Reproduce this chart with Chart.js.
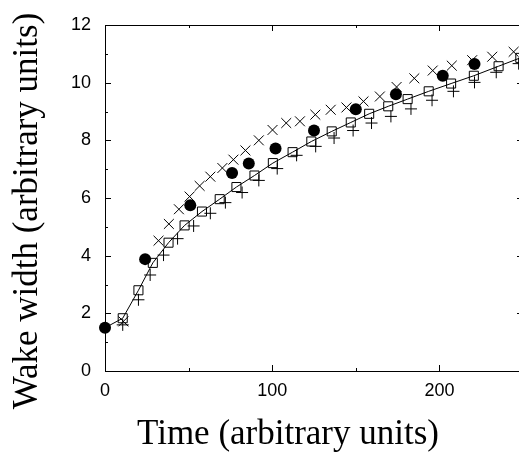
<!DOCTYPE html>
<html>
<head>
<meta charset="utf-8">
<title>Wake width</title>
<script src="https://cdn.jsdelivr.net/npm/chart.js@4.4.1/dist/chart.umd.min.js"></script>
<style>
  html, body { margin: 0; background: #fff; overflow: hidden; }
  canvas { display: block; }
</style>
</head>
<body>
<!-- the original figure is cut at its right border, so the canvas runs past the window -->
<canvas id="wakeChart" width="531" height="453"></canvas>
<script>
    // Values
    const circleTimes = [0, 24, 51, 76, 86, 102, 125, 150, 174, 202, 221];
    const circleWidths = [1.5, 3.88, 5.75, 6.87, 7.2, 7.72, 8.34, 9.08, 9.6, 10.24, 10.65];

    const squareTimes = [0, 10.6, 20, 28.6, 38, 47.6, 58, 68.6, 78.6, 89.4, 100.4, 112.2, 123.4, 135.6, 147, 158, 169.4, 181, 193.6, 207, 220.6, 235.4, 248.4];
    const squareWidths = [1.5, 1.83, 2.8, 3.75, 4.45, 5.05, 5.53, 5.96, 6.38, 6.78, 7.21, 7.59, 7.96, 8.31, 8.62, 8.92, 9.18, 9.43, 9.7, 9.97, 10.24, 10.57, 10.86];

    const crossTimes = [11, 32, 38.2, 44.2, 50.6, 56.6, 63, 70.2, 76.8, 84, 92, 100.2, 108.4, 116.6, 125.8, 135, 144.4, 154.6, 164.4, 174.4, 185, 196, 207.4, 219.6, 231.6, 244.4];
    const crossWidths = [1.72, 4.52, 5.1, 5.61, 6.05, 6.42, 6.74, 7.04, 7.33, 7.65, 8.0, 8.36, 8.6, 8.66, 8.89, 9.06, 9.14, 9.35, 9.52, 9.85, 10.15, 10.42, 10.59, 10.78, 10.9, 11.07];

    const plusTimes = [10.6, 20, 27, 35, 43.4, 53, 63, 72, 82, 92, 103, 114.6, 126, 137, 148.4, 159.4, 171, 183, 195.6, 208.4, 221, 234, 247.4];
    const plusWidths = [1.6, 2.47, 3.33, 4.02, 4.59, 5.03, 5.47, 5.84, 6.19, 6.61, 7.02, 7.48, 7.79, 8.08, 8.34, 8.6, 8.83, 9.09, 9.39, 9.7, 10.01, 10.36, 10.66];

    const xTickValues = [0, 50, 100, 150, 200, 250];
    const xTickLabels = ['0', '', '100', '', '200', ''];
    const yTickValues = [0, 1, 2, 3, 4, 5, 6, 7, 8, 9, 10, 11, 12];
    const yTickLabels = ['0', '', '2', '', '4', '', '6', '', '8', '', '10', '', '12'];

    const xTitle = 'Time (arbitrary units)';
    const yTitle = 'Wake width (arbitrary units)';

    // Turn two arrays into {x, y} points
    function toPoints(xs, ys) {
        return xs.map((x, i) => ({ x: x, y: ys[i] }));
    }

    // Frame with inward ticks on all four sides
    const frameAndTicks = {
        id: 'frameAndTicks',
        beforeDatasetsDraw(chart) {
            const { ctx, chartArea, scales } = chart;
            const { left, right, top, bottom } = chartArea;
            ctx.save();
            ctx.strokeStyle = '#000';
            ctx.lineWidth = 1;
            ctx.beginPath();
            ctx.rect(Math.round(left) + 0.5, Math.round(top) + 0.5, Math.round(right - left), Math.round(bottom - top));

            yTickValues.forEach((v, i) => {
                const y = Math.round(scales.y.getPixelForValue(v)) + 0.5;
                const len = yTickLabels[i] ? 6 : 3;
                ctx.moveTo(left, y);
                ctx.lineTo(left + len, y);
                ctx.moveTo(right, y);
                ctx.lineTo(right - len, y);
            });
            xTickValues.forEach((v, i) => {
                const x = Math.round(scales.x.getPixelForValue(v)) + 0.5;
                const len = xTickLabels[i] ? 6 : 3;
                ctx.moveTo(x, bottom);
                ctx.lineTo(x, bottom - len);
                ctx.moveTo(x, top);
                ctx.lineTo(x, top + len);
            });
            ctx.stroke();
            ctx.restore();
        },
        // axis titles, placed a bit off-centre like the original figure
        afterDraw(chart) {
            const { ctx, chartArea } = chart;
            ctx.save();
            ctx.fillStyle = '#000';
            ctx.font = '35px "Liberation Serif", "Times New Roman", serif';
            ctx.textAlign = 'center';
            ctx.textBaseline = 'alphabetic';
            ctx.fillText(xTitle, (chartArea.left + chartArea.right) / 2 - 26, chartArea.bottom + 73);

            ctx.translate(chartArea.left - 68, (chartArea.top + chartArea.bottom) / 2 + 13);
            ctx.rotate(-Math.PI / 2);
            ctx.fillText(yTitle, 0, 0);
            ctx.restore();
        }
    };

    Chart.defaults.color = '#000';
    Chart.defaults.font.family = '"Liberation Sans", Arial, sans-serif';

    const tickFont = { size: 18 };

    const ctx = document.getElementById('wakeChart').getContext('2d');

    new Chart(ctx, {
        type: 'scatter',
        data: {
            datasets: [
                {
                    label: 'squares',
                    data: toPoints(squareTimes, squareWidths),
                    showLine: true,
                    borderColor: '#000',
                    borderWidth: 1,
                    pointStyle: 'rect',
                    pointRadius: c => (c.dataIndex === 0 ? 0 : 6.4),
                    pointBorderColor: '#000',
                    pointBackgroundColor: 'rgba(0,0,0,0)',
                    pointBorderWidth: 1,
                    clip: false,
                    order: 4
                },
                {
                    label: 'plus',
                    data: toPoints(plusTimes, plusWidths),
                    pointStyle: 'cross',
                    pointRadius: 6,
                    pointBorderColor: '#000',
                    pointBorderWidth: 1,
                    clip: false,
                    order: 3
                },
                {
                    label: 'cross',
                    data: toPoints(crossTimes, crossWidths),
                    pointStyle: 'crossRot',
                    pointRadius: 7,
                    pointBorderColor: '#000',
                    pointBorderWidth: 1,
                    clip: false,
                    order: 2
                },
                {
                    label: 'circles',
                    data: toPoints(circleTimes, circleWidths),
                    pointStyle: 'circle',
                    pointRadius: 6,
                    pointBorderColor: '#000',
                    pointBackgroundColor: '#000',
                    pointBorderWidth: 0,
                    clip: false,
                    order: 1
                }
            ]
        },
        options: {
            responsive: false,
            animation: false,
            layout: {
                padding: { top: 25, right: 0, left: 0, bottom: 0 }
            },
            plugins: {
                legend: { display: false },
                tooltip: { enabled: false }
            },
            scales: {
                x: {
                    type: 'linear',
                    min: 0,
                    max: 250,
                    afterFit: scale => {
                        scale.height = 82;
                        scale.paddingLeft = 0;
                        scale.paddingRight = 0;
                    },
                    afterBuildTicks: scale => {
                        scale.ticks = xTickValues.map(v => ({ value: v }));
                    },
                    ticks: {
                        font: tickFont,
                        padding: 9,
                        maxRotation: 0,
                        autoSkip: false,
                        callback: (value, index) => xTickLabels[index]
                    },
                    grid: { display: false, drawTicks: false },
                    border: { display: false }
                },
                y: {
                    type: 'linear',
                    min: 0,
                    max: 12,
                    afterFit: scale => {
                        scale.width = 105;
                        scale.paddingTop = 0;
                        scale.paddingBottom = 0;
                    },
                    afterBuildTicks: scale => {
                        scale.ticks = yTickValues.map(v => ({ value: v }));
                    },
                    ticks: {
                        font: tickFont,
                        padding: 14,
                        autoSkip: false,
                        callback: (value, index) => yTickLabels[index]
                    },
                    grid: { display: false, drawTicks: false },
                    border: { display: false }
                }
            }
        },
        plugins: [frameAndTicks]
    });
</script>
</body>
</html>
